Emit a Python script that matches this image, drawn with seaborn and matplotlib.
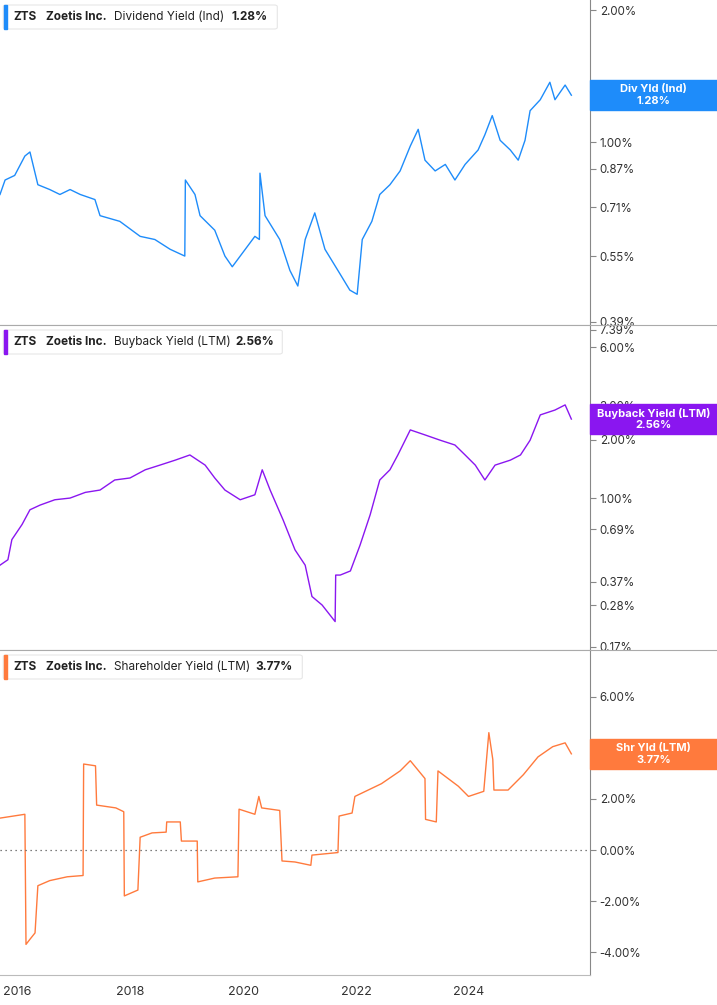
import numpy as np
import pandas as pd
import seaborn as sns
import matplotlib
matplotlib.use("Agg")
import matplotlib.pyplot as plt
from matplotlib.patches import FancyBboxPatch, Rectangle

# ---- data (decimal years, yield in %) ----
div_t = [2015.70, 2015.79, 2015.96, 2016.14, 2016.23, 2016.37, 2016.58, 2016.76, 2016.94, 2017.12,
         2017.38, 2017.47, 2017.82, 2018.18, 2018.44, 2018.71, 2018.97, 2018.98, 2019.15, 2019.24,
         2019.50, 2019.68, 2019.81, 2020.04, 2020.21, 2020.29, 2020.30, 2020.39, 2020.65, 2020.83,
         2020.97, 2021.10, 2021.27, 2021.45, 2021.72, 2021.89, 2022.02, 2022.11, 2022.28, 2022.42,
         2022.60, 2022.78, 2022.96, 2023.10, 2023.22, 2023.40, 2023.58, 2023.75, 2023.93, 2024.16,
         2024.28, 2024.41, 2024.55, 2024.73, 2024.87, 2024.99, 2025.08, 2025.26, 2025.43, 2025.52,
         2025.70, 2025.81]
div_v = [0.76, 0.82, 0.84, 0.93, 0.95, 0.80, 0.78, 0.76, 0.78, 0.76,
         0.74, 0.68, 0.66, 0.61, 0.60, 0.57, 0.55, 0.82, 0.76, 0.68,
         0.63, 0.55, 0.52, 0.57, 0.61, 0.60, 0.85, 0.68, 0.60, 0.51,
         0.47, 0.60, 0.69, 0.57, 0.50, 0.46, 0.45, 0.60, 0.66, 0.76,
         0.80, 0.86, 0.98, 1.07, 0.91, 0.86, 0.89, 0.82, 0.89, 0.96,
         1.04, 1.15, 1.01, 0.96, 0.91, 1.01, 1.18, 1.25, 1.37, 1.25,
         1.35, 1.28]

bb_t = [2015.70, 2015.84, 2015.91, 2016.09, 2016.23, 2016.41, 2016.67, 2016.94, 2017.21, 2017.47,
        2017.73, 2018.00, 2018.27, 2018.53, 2018.80, 2019.06, 2019.33, 2019.50, 2019.68, 2019.95,
        2020.21, 2020.34, 2020.48, 2020.71, 2020.92, 2021.10, 2021.22, 2021.40, 2021.63, 2021.64,
        2021.72, 2021.90, 2022.07, 2022.25, 2022.42, 2022.60, 2022.74, 2022.96, 2023.22, 2023.49,
        2023.75, 2023.93, 2024.11, 2024.28, 2024.46, 2024.73, 2024.91, 2025.08, 2025.26, 2025.52,
        2025.70, 2025.81]
bb_v = [0.45, 0.48, 0.61, 0.73, 0.87, 0.92, 0.98, 1.00, 1.07, 1.10,
        1.24, 1.27, 1.40, 1.48, 1.57, 1.67, 1.48, 1.27, 1.10, 0.98,
        1.04, 1.40, 1.10, 0.77, 0.54, 0.45, 0.31, 0.28, 0.23, 0.40,
        0.40, 0.42, 0.57, 0.82, 1.24, 1.40, 1.67, 2.25, 2.12, 1.99,
        1.88, 1.67, 1.48, 1.24, 1.48, 1.57, 1.67, 1.99, 2.69, 2.85,
        3.03, 2.56]

sh_t = [2015.70, 2016.14, 2016.16, 2016.23, 2016.32, 2016.37, 2016.58, 2016.89, 2017.17, 2017.18,
        2017.39, 2017.41, 2017.75, 2017.89, 2017.90, 2018.14, 2018.18, 2018.39, 2018.64, 2018.65,
        2018.89, 2018.91, 2019.19, 2019.20, 2019.50, 2019.91, 2019.93, 2020.21, 2020.28, 2020.33,
        2020.65, 2020.69, 2020.92, 2021.20, 2021.22, 2021.68, 2021.70, 2021.93, 2021.98, 2022.45,
        2022.78, 2022.96, 2023.22, 2023.23, 2023.42, 2023.45, 2023.81, 2023.99, 2024.26, 2024.35,
        2024.42, 2024.44, 2024.69, 2024.96, 2025.22, 2025.48, 2025.70, 2025.81]
sh_v = [1.25, 1.40, -3.70, -3.50, -3.25, -1.40, -1.20, -1.05, -1.00, 3.37,
        3.30, 1.76, 1.65, 1.50, -1.80, -1.57, 0.50, 0.67, 0.70, 1.10,
        1.10, 0.35, 0.35, -1.25, -1.10, -1.05, 1.60, 1.40, 2.10, 1.65,
        1.55, -0.43, -0.47, -0.60, -0.20, -0.10, 1.33, 1.45, 2.10, 2.60,
        3.10, 3.50, 2.80, 1.20, 1.10, 3.10, 2.50, 2.10, 2.30, 4.60,
        3.55, 2.35, 2.35, 2.95, 3.65, 4.05, 4.20, 3.77]

xticks = [2016, 2018, 2020, 2022, 2024]
div_ticks = [2.00, 1.00, 0.87, 0.71, 0.55, 0.39]
bb_ticks = [7.39, 6.00, 3.00, 2.00, 1.00, 0.69, 0.37, 0.28, 0.17]
sh_ticks = [6.00, 4.00, 2.00, 0.00, -2.00, -4.00]

panels = [
    dict(t=div_t, v=div_v, ticks=div_ticks, log=True, lim=(0.383, 2.11), color="#1E8CFA",
         title="Dividend Yield (Ind)", tag="Div Yld (Ind)", last="1.28%"),
    dict(t=bb_t, v=bb_v, ticks=bb_ticks, log=True, lim=(0.164, 7.84), color="#8A16F0",
         title="Buyback Yield (LTM)", tag="Buyback Yield (LTM)", last="2.56%"),
    dict(t=sh_t, v=sh_v, ticks=sh_ticks, log=False, lim=(-4.9, 7.84), color="#FF7A3D",
         title="Shareholder Yield (LTM)", tag="Shr Yld (LTM)", last="3.77%"),
]

W, H = 717, 1005
fig = plt.figure(figsize=(W / 100, H / 100), dpi=100)
fig.patch.set_facecolor("white")
plt.rcParams["font.family"] = "Inter"

right = 590 / W
bounds = [(0, 325), (325, 650), (650, 975)]
for i, (p, (y0, y1)) in enumerate(zip(panels, bounds)):
    ax = fig.add_axes([0, 1 - y1 / H, right, (y1 - y0) / H])
    df = pd.DataFrame({"t": p["t"], "v": p["v"]})
    if p["log"]:
        ax.set_yscale("log")
    sns.lineplot(data=df, x="t", y="v", ax=ax, color=p["color"], lw=1.0, estimator=None, sort=False)
    ax.set_xlim(2015.70, 2026.14)
    ax.set_ylim(*p["lim"])
    ax.set_xlabel(""); ax.set_ylabel("")
    ax.yaxis.tick_right()
    ax.yaxis.set_minor_locator(matplotlib.ticker.NullLocator())
    ax.set_yticks(p["ticks"])
    ax.set_yticklabels([f"{t:.2f}%" for t in p["ticks"]], fontsize=8.3, color="#333333")
    ax.tick_params(axis="y", length=4, color="#888888", pad=3)
    for s in ["left", "top"]:
        ax.spines[s].set_visible(False)
    ax.spines["right"].set_color("#888888")
    ax.spines["bottom"].set_color("#bbbbbb")
    ax.spines["bottom"].set_linewidth(0.8)
    if i < 2:
        ax.set_xticks([])
    else:
        ax.set_xticks(xticks)
        ax.set_xticklabels([str(x) for x in xticks], fontsize=9, color="#333333")
        ax.tick_params(axis="x", length=0, pad=8)
        ax.axhline(0, color="#555555", lw=0.9, ls=(0, (1, 3)))
    # header box
    box_w = {0: 278, 1: 283, 2: 303}[i]
    ax.add_patch(FancyBboxPatch((4 / W, 1 - 29 / (y1 - y0)), (box_w - 4) / W / right, 24 / (y1 - y0),
                                boxstyle="round,pad=0,rounding_size=0.005", transform=ax.transAxes,
                                facecolor="white", edgecolor="#e6e6e6", lw=0.8, zorder=5))
    ax.add_patch(Rectangle((4 / W / right, 1 - 29 / (y1 - y0)), 3 / W / right, 24 / (y1 - y0),
                           transform=ax.transAxes, color=p["color"], zorder=6))
    ty = 1 - 17 / (y1 - y0)
    def fx(px):
        return px / (W * right)
    ax.text(fx(13), ty, "ZTS", transform=ax.transAxes, fontsize=8.5, fontweight="bold",
            color="#222222", va="center", zorder=7)
    ax.text(fx(46), ty, "Zoetis Inc.", transform=ax.transAxes, fontsize=8.5, fontweight="bold",
            color="#222222", va="center", zorder=7)
    ax.text(fx(114), ty, p["title"], transform=ax.transAxes, fontsize=8.5,
            color="#222222", va="center", zorder=7)
    tw = {0: 232, 1: 235, 2: 255}[i]
    ax.text(fx(tw), ty, p["last"], transform=ax.transAxes, fontsize=8.5, fontweight="bold",
            color="#222222", va="center", zorder=7)
    # value tag on right
    lastv = p["v"][-1]
    if p["log"]:
        fy = (np.log(lastv) - np.log(p["lim"][0])) / (np.log(p["lim"][1]) - np.log(p["lim"][0]))
    else:
        fy = (lastv - p["lim"][0]) / (p["lim"][1] - p["lim"][0])
    hh = 30 / (y1 - y0)
    ax.add_patch(Rectangle((1.0, fy - hh / 2), (W - 590) / (W * right), hh, transform=ax.transAxes,
                           color=p["color"], clip_on=False, zorder=8))
    cx = 1.0 + (W - 590) / 2 / (W * right)
    ax.text(cx, fy + 0.2 * hh, p["tag"], transform=ax.transAxes, ha="center", va="center",
            fontsize=8, fontweight="bold", color="white", zorder=9, clip_on=False)
    ax.text(cx, fy - 0.2 * hh, p["last"], transform=ax.transAxes, ha="center", va="center",
            fontsize=8, fontweight="bold", color="white", zorder=9, clip_on=False)

# separators across full width
for yy in [325, 650]:
    fig.add_artist(plt.Line2D([0, 1], [1 - yy / H, 1 - yy / H], color="#aaaaaa", lw=0.8))

fig.savefig("out.png", dpi=100)
